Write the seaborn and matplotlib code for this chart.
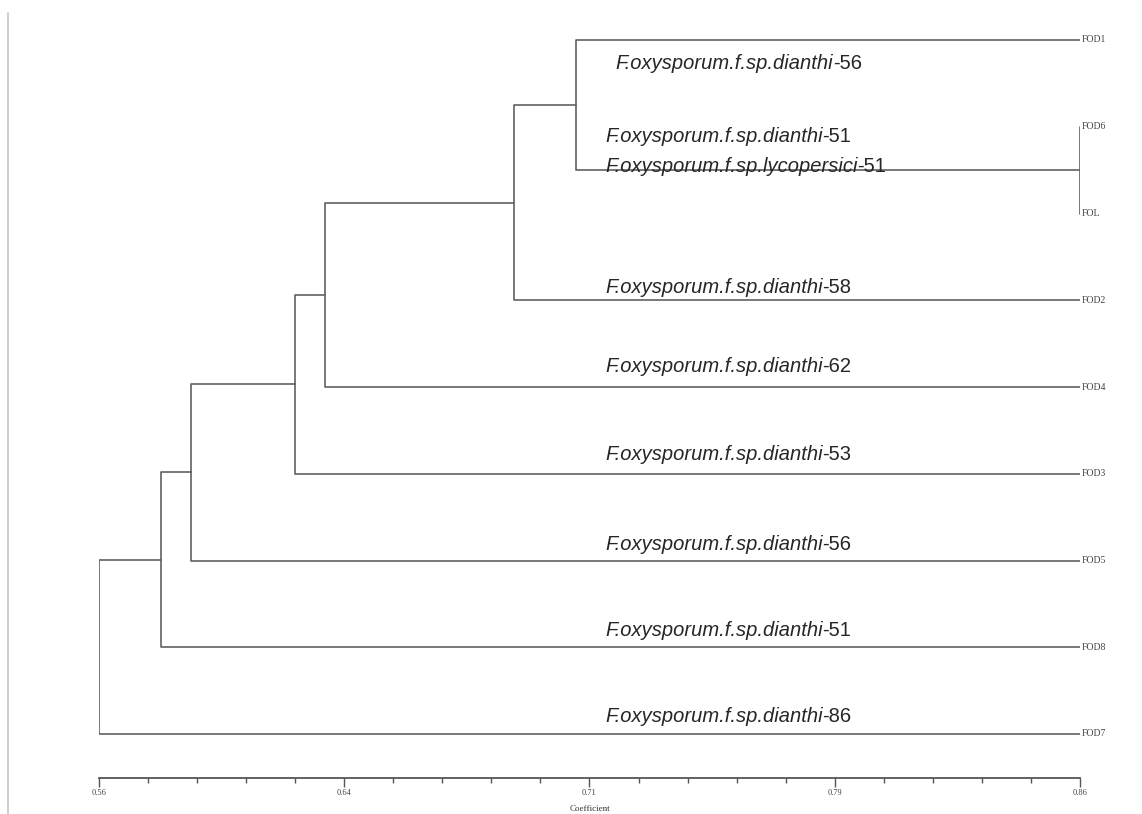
import numpy as np
import pandas as pd
import matplotlib
matplotlib.use("Agg")
import matplotlib.pyplot as plt
from matplotlib.lines import Line2D
from matplotlib.ticker import FixedLocator
import seaborn as sns

# leaves in dendrogram order (top to bottom)
leaves = ["FOD1", "FOD6", "FOL", "FOD2", "FOD4", "FOD3", "FOD5", "FOD8", "FOD7"]
strain_names = ["F.oxysporum.f.sp.dianthi", "F.oxysporum.f.sp.dianthi",
                "F.oxysporum.f.sp.lycopersici", "F.oxysporum.f.sp.dianthi",
                "F.oxysporum.f.sp.dianthi", "F.oxysporum.f.sp.dianthi",
                "F.oxysporum.f.sp.dianthi", "F.oxysporum.f.sp.dianthi",
                "F.oxysporum.f.sp.dianthi"]
strain_codes = ["56", "51", "51", "58", "62", "53", "56", "51", "86"]

# linkage: clusters 0..8 are leaves, merge i creates cluster 9+i
merge_left = [1, 0, 10, 11, 12, 13, 14, 15]
merge_right = [2, 9, 3, 4, 5, 6, 7, 8]
merge_height = [0.86, 0.706, 0.687, 0.629, 0.620, 0.588, 0.579, 0.56]

major_ticks = [0.56, 0.635, 0.71, 0.785, 0.86]
major_labels = ["0.56", "0.64", "0.71", "0.79", "0.86"]

sns.set_theme(style="white")
plt.rcParams["font.family"] = ["Liberation Sans", "DejaVu Sans"]

W, H = 1142, 814
fig = plt.figure(figsize=(W / 100, H / 100), dpi=100)
fig.patch.set_facecolor("white")
# axis from x=99 to 1080 px, bottom spine at y=778 px
ax = fig.add_axes([99 / W, (H - 778) / H, 981 / W, 778 / H])
ax.set_facecolor("white")

# build dendrogram segments from the linkage
pos_y = {i: float(i) for i in range(len(leaves))}
pos_h = {i: 0.86 for i in range(len(leaves))}
rows = []
for k, (a, b, h) in enumerate(zip(merge_left, merge_right, merge_height)):
    node = len(leaves) + k
    pts = [(pos_h[a], pos_y[a]), (h, pos_y[a]), (h, pos_y[b]), (pos_h[b], pos_y[b])]
    for j, (x, y) in enumerate(pts):
        rows.append({"x": x, "y": y, "seg": k, "order": j})
    pos_y[node] = (pos_y[a] + pos_y[b]) / 2
    pos_h[node] = h
seg_df = pd.DataFrame(rows)

sns.lineplot(data=seg_df, x="x", y="y", units="seg", estimator=None, sort=False,
             color="#616161", linewidth=1.2, ax=ax, legend=False)

px = 86.75  # pixels per leaf row
ax.set_xlim(0.56, 0.86)
ax.set_ylim((778 - 40) / px, -40 / px)

# leaf labels
for i, name in enumerate(leaves):
    ax.text(0.86 + 2 / 3270, i, name, fontsize=7, family="Liberation Serif",
            color="#444444", ha="left", va="center", clip_on=False)

# strain labels: (x pixel, baseline offset in pixels from leaf row)
label_layout = [(615, 29), (605, 15), (605, -41), (605, -7), (605, -15),
                (605, -14), (605, -11), (605, -11), (605, -12)]
for i, (nm, code) in enumerate(zip(strain_names, strain_codes)):
    lx, dy = label_layout[i]
    xd = 0.56 + (lx - 99) / 3270
    t = ax.text(xd, i + dy / px, nm, fontsize=14.5, style="italic",
                color="#262626", ha="left", va="baseline")
    ax.annotate("-" + code, xy=(1, 0), xycoords=t, fontsize=14.5,
                color="#262626", ha="left", va="bottom")

# axis styling
for s in ["left", "right", "top"]:
    ax.spines[s].set_visible(False)
ax.spines["bottom"].set_color("#555555")
ax.spines["bottom"].set_linewidth(1.3)
ax.set_yticks([])
ax.xaxis.set_major_locator(FixedLocator(major_ticks))
ax.set_xticklabels(major_labels)
ax.xaxis.set_minor_locator(FixedLocator(np.linspace(0.56, 0.86, 21)))
ax.tick_params(axis="x", which="major", direction="out", length=6.5, width=1,
               color="#555555", pad=1.5, labelsize=6, labelcolor="#444444", bottom=True)
ax.tick_params(axis="x", which="minor", direction="out", length=3.6, width=1,
               color="#555555", bottom=True)
for lab in ax.get_xticklabels():
    lab.set_family("Liberation Serif")
ax.set_xlabel("Coefficient", fontsize=6.5, family="Liberation Serif",
              color="#333333", labelpad=6)
ax.set_ylabel("")

# thin grey border line at the left edge
fig.add_artist(Line2D([8 / W, 8 / W], [0, 1 - 13 / H], transform=fig.transFigure,
                      color="#c4c4c4", linewidth=1.2))

fig.savefig("out.png", dpi=100, facecolor="white")
